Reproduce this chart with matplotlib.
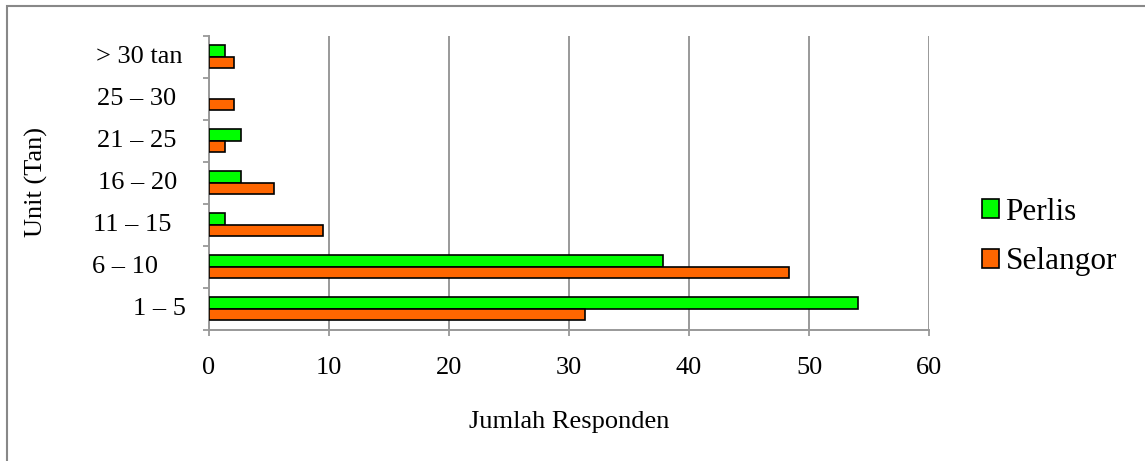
import matplotlib
matplotlib.use("Agg")
import matplotlib.pyplot as plt
import matplotlib.transforms as mtransforms
from matplotlib.patches import Patch, Rectangle
import numpy as np

plt.rcParams["font.family"] = ["Liberation Serif", "DejaVu Serif"]

# Data (bottom to top)
categories = ["1 – 5", "6 – 10", "11 – 15", "16 – 20", "21 – 25", "25 – 30", "> 30 tan"]
perlis = [54.05, 37.8, 1.35, 2.7, 2.7, 0.0, 1.35]
selangor = [31.3, 48.3, 9.5, 5.4, 1.35, 2.1, 2.1]
series_names = ["Perlis", "Selangor"]
x_ticks = [0, 10, 20, 30, 40, 50, 60]

GREEN = "#00FF00"
ORANGE = "#FF6600"
GRID = "#999999"
W, H = 1145, 461


def main():
    fig = plt.figure(figsize=(W / 100, H / 100), dpi=100)
    ax = fig.add_axes([209 / W, 1 - 329.7 / H, 720 / W, 294 / H])

    y = np.arange(len(categories))
    bh = 0.28
    b1 = ax.barh(y + bh / 2, perlis, height=bh, color=GREEN, edgecolor="black", linewidth=1.2, zorder=3)
    b2 = ax.barh(y - bh / 2, selangor, height=bh, color=ORANGE, edgecolor="black", linewidth=1.2, zorder=3)
    # hide empty bars (no outline for zero values)
    for patch in list(b1) + list(b2):
        if patch.get_width() == 0:
            patch.set_visible(False)

    ax.set_xlim(0, 60)
    ax.set_ylim(-0.5, len(categories) - 0.5)
    ax.set_xticks(x_ticks)
    ax.set_xticklabels([str(v) for v in x_ticks], fontsize=19)
    ax.tick_params(axis="x", direction="out", length=4, width=1.3, color=GRID, pad=16)

    # y ticks at category boundaries, labels drawn separately
    ax.set_yticks(np.arange(-0.5, len(categories), 1.0))
    ax.set_yticklabels([])
    ax.tick_params(axis="y", direction="out", length=4.5, width=1.3, color=GRID)

    ax.grid(axis="x", color=GRID, linewidth=1.4, zorder=0)
    ax.set_axisbelow(True)
    for side in ["top", "right"]:
        ax.spines[side].set_visible(False)
    for side in ["left", "bottom"]:
        ax.spines[side].set_color(GRID)
        ax.spines[side].set_linewidth(1.4)

    # category labels (left aligned like the source)
    label_x = [133, 92, 93, 98, 97, 97, 96]
    trans = mtransforms.blended_transform_factory(fig.transFigure, ax.transData)
    for yi, lab, lx in zip(y, categories, label_x):
        ax.text(lx / W, yi, lab, transform=trans, ha="left", va="center", fontsize=19)

    fig.text(36 / W, 1 - 182 / H, "Unit (Tan)", rotation=90, ha="center", va="center", fontsize=19)
    fig.text(569 / W, 1 - 422 / H, "Jumlah Responden", ha="center", va="center", fontsize=19)

    handles = [Patch(facecolor=GREEN, edgecolor="black", linewidth=1.2),
               Patch(facecolor=ORANGE, edgecolor="black", linewidth=1.2)]
    fig.legend(handles, series_names, loc="center left", bbox_to_anchor=(982 / W, 1 - 237 / H),
               frameon=False, fontsize=22.5, handlelength=0.55, handleheight=0.55,
               handletextpad=0.2, labelspacing=0.65, borderpad=0, borderaxespad=0)

    # outer chart border (only top and left visible in the source crop)
    fig.patches.append(Rectangle((7 / W, -0.1), 1.2, 1.1 - 6 / H, transform=fig.transFigure,
                                 fill=False, edgecolor="#888888", linewidth=1.5))

    fig.savefig("out.png", dpi=100)
    plt.close(fig)


if __name__ == "__main__":
    main()
